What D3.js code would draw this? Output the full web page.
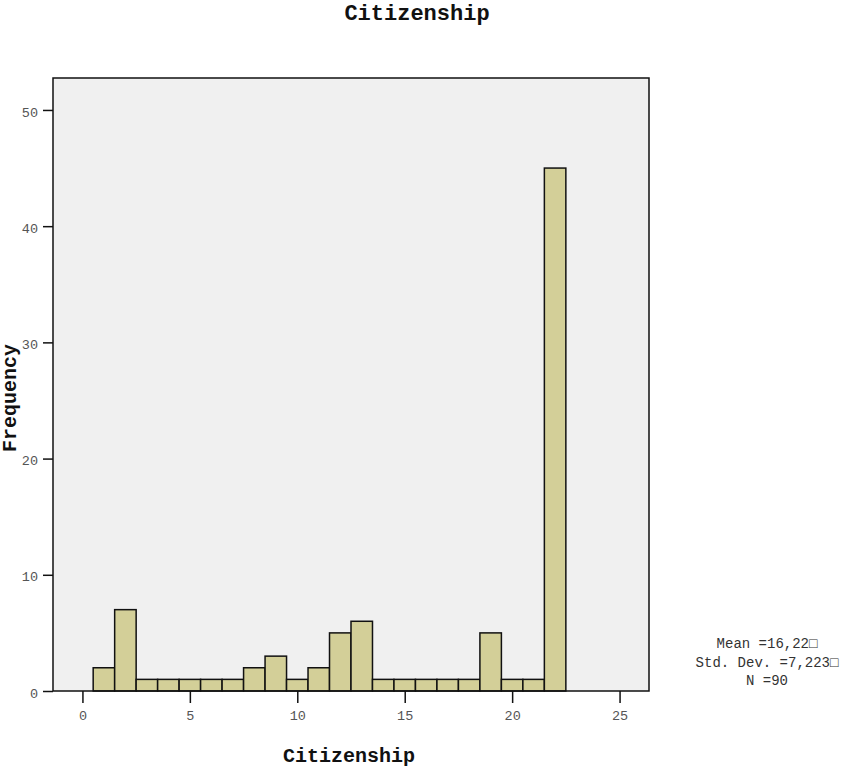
<!DOCTYPE html>
<html>
<head>
<meta charset="utf-8">
<script src="https://cdn.jsdelivr.net/npm/d3@7"></script>
<style>
  body { margin: 0; background: #fff; }
  text { font-family: "Liberation Mono", "DejaVu Sans Mono", monospace; }
</style>
</head>
<body>
<div id="vis"></div>
<script>
// histogram bins (centre value) and counts
var binCenters = [1, 2, 3, 4, 5, 6, 7, 8, 9, 10, 11, 12, 13, 14, 15, 16, 17, 18, 19, 20, 21, 22];
var counts     = [2, 7, 1, 1, 1, 1, 1, 2, 3, 1, 2, 5, 6, 1, 1, 1, 1, 1, 5, 1, 1, 45];
var xTicks = [0, 5, 10, 15, 20, 25];
var yTicks = [0, 10, 20, 30, 40, 50];
var statLines = ["Mean =16,22\u25A1", "Std. Dev. =7,223\u25A1", "N =90"];

var width = 843, height = 769;
var plot = {left: 53, right: 649, top: 78, bottom: 691};

var svg = d3.select("#vis").append("svg")
    .attr("width", width)
    .attr("height", height);

var x = d3.scaleLinear()
    .domain([-1.37, 26.37])
    .range([plot.left, plot.right]);

var y = d3.scaleLinear()
    .domain([0, 52.75])
    .range([plot.bottom, plot.top]);

// plot background
svg.append("rect")
    .attr("x", plot.left)
    .attr("y", plot.top)
    .attr("width", plot.right - plot.left)
    .attr("height", plot.bottom - plot.top)
    .style("fill", "#f0f0f0")
    .style("stroke", "none");

// bars
svg.append("g").selectAll("rect")
    .data(binCenters)
  .enter().append("rect")
    .attr("x", function(d) { return x(d - 0.5); })
    .attr("width", function(d) { return x(d + 0.5) - x(d - 0.5); })
    .attr("y", function(d, i) { return y(counts[i]); })
    .attr("height", function(d, i) { return y(0) - y(counts[i]); })
    .style("fill", "#d3cf98")
    .style("stroke", "#111")
    .style("stroke-width", 1.5);

// frame
svg.append("rect")
    .attr("x", plot.left)
    .attr("y", plot.top)
    .attr("width", plot.right - plot.left)
    .attr("height", plot.bottom - plot.top)
    .style("fill", "none")
    .style("stroke", "#111")
    .style("stroke-width", 1.5);

// y axis
var yAxis = d3.axisLeft(y).tickValues(yTicks).tickSize(10).tickPadding(5);
var gy = svg.append("g")
    .attr("transform", "translate(" + plot.left + ",0)")
    .call(yAxis);
gy.select(".domain").remove();
gy.selectAll(".tick line").style("stroke", "#111").style("stroke-width", 1.5);
gy.selectAll(".tick text")
    .attr("dy", "0.45em")
    .style("font-size", "13.5px")
    .style("fill", "#555")
    .style("font-family", "'Liberation Mono', monospace");

// x axis
var xAxis = d3.axisBottom(x).tickValues(xTicks).tickSize(12).tickPadding(7);
var gx = svg.append("g")
    .attr("transform", "translate(0," + plot.bottom + ")")
    .call(xAxis);
gx.select(".domain").remove();
gx.selectAll(".tick line").style("stroke", "#111").style("stroke-width", 1.5);
gx.selectAll(".tick text")
    .style("font-size", "13.5px")
    .style("fill", "#555")
    .style("font-family", "'Liberation Mono', monospace");

// titles
svg.append("text")
    .attr("x", 417)
    .attr("y", 20)
    .attr("text-anchor", "middle")
    .style("font-size", "22px")
    .style("font-weight", "bold")
    .style("fill", "#111")
    .text("Citizenship");

svg.append("text")
    .attr("x", 349)
    .attr("y", 762)
    .attr("text-anchor", "middle")
    .style("font-size", "20px")
    .style("font-weight", "bold")
    .style("fill", "#111")
    .text("Citizenship");

svg.append("text")
    .attr("transform", "translate(16,398) rotate(-90)")
    .attr("text-anchor", "middle")
    .style("font-size", "20px")
    .style("font-weight", "bold")
    .style("fill", "#111")
    .text("Frequency");

// stats box text
svg.append("g").selectAll("text")
    .data(statLines)
  .enter().append("text")
    .attr("x", 767)
    .attr("y", function(d, i) { return 648 + i * 18.5; })
    .attr("text-anchor", "middle")
    .style("font-size", "14px")
    .style("fill", "#333")
    .text(function(d) { return d; });
</script>
</body>
</html>
